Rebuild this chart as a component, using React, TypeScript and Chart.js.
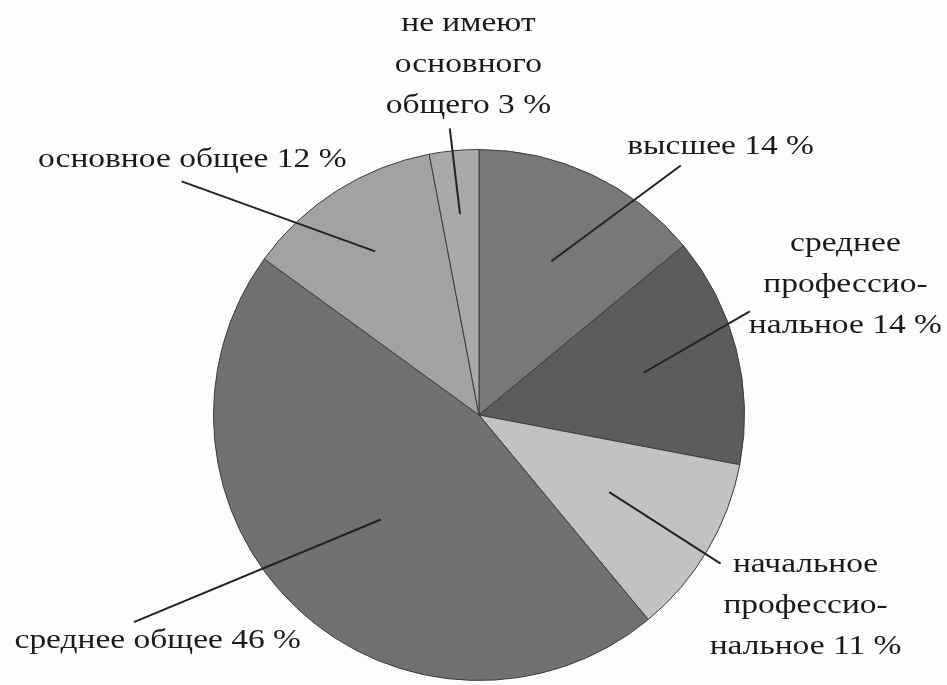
import React, { useEffect, useRef } from "react";
import { Chart, registerables } from "chart.js";

Chart.register(...registerables);

const categories = [
  "высшее",
  "среднее профессиональное",
  "начальное профессиональное",
  "среднее общее",
  "основное общее",
  "не имеют основного общего",
];
const values = [14, 14, 11, 46, 12, 3];
const labelLines = [
  ["высшее 14 %"],
  ["среднее", "профессио-", "нальное 14 %"],
  ["начальное", "профессио-", "нальное 11 %"],
  ["среднее общее 46 %"],
  ["основное общее 12 %"],
  ["не имеют", "основного", "общего 3 %"],
];
const sliceColors = ["#787878", "#5c5c5c", "#c2c2c2", "#717171", "#a2a2a2", "#a9a9a9"];

// layout: inner leader fraction of radius, outer leader end and label centre (relative to centre, in radius units)
const layout = [
  { inner: 0.64, end: [0.76, -0.94], text: [0.91, -1.01] },
  { inner: 0.64, end: [1.02, -0.39], text: [1.38, -0.49] },
  { inner: 0.57, end: [0.91, 0.56], text: [1.23, 0.72] },
  { inner: 0.54, end: [-1.3, 0.78], text: [-1.21, 0.85] },
  { inner: 0.73, end: [-1.12, -0.88], text: [-1.08, -0.96] },
  { inner: 0.76, end: [-0.11, -1.08], text: [-0.04, -1.32] },
];

const labelPlugin = {
  id: "leaderLabels",
  afterDatasetsDraw(chart: any) {
    const ctx = chart.ctx;
    const meta = chart.getDatasetMeta(0);
    ctx.save();
    meta.data.forEach((arc: any, i: number) => {
      const { x, y, startAngle, endAngle, outerRadius } = arc.getProps(
        ["x", "y", "startAngle", "endAngle", "outerRadius"],
        true
      );
      const mid = (startAngle + endAngle) / 2;
      const L = layout[i];
      const ix = x + Math.cos(mid) * outerRadius * L.inner;
      const iy = y + Math.sin(mid) * outerRadius * L.inner;
      const ex = x + L.end[0] * outerRadius;
      const ey = y + L.end[1] * outerRadius;
      ctx.strokeStyle = "#222";
      ctx.lineWidth = 2;
      ctx.beginPath();
      ctx.moveTo(ix, iy);
      ctx.lineTo(ex, ey);
      ctx.stroke();
      const tx = x + L.text[0] * outerRadius;
      const ty = y + L.text[1] * outerRadius;
      const lines = labelLines[i];
      const lh = 41;
      ctx.save();
      ctx.translate(tx, ty);
      ctx.scale(1.24, 1);
      ctx.font = '27px "Liberation Serif", "DejaVu Serif", serif';
      ctx.fillStyle = "#1a1a1a";
      ctx.textAlign = "center";
      ctx.textBaseline = "middle";
      lines.forEach((ln, k) => {
        ctx.fillText(ln, 0, (k - (lines.length - 1) / 2) * lh);
      });
      ctx.restore();
    });
    ctx.restore();
  },
};

export default function App() {
  const ref = useRef<HTMLCanvasElement | null>(null);
  useEffect(() => {
    document.body.style.margin = "0";
    document.body.style.background = "#fcfcfc";
    const chart = new Chart(ref.current as HTMLCanvasElement, {
      type: "pie",
      data: {
        labels: categories,
        datasets: [
          {
            data: values,
            backgroundColor: sliceColors,
            borderColor: "#3c3c3c",
            borderWidth: 1,
          },
        ],
      },
      options: {
        animation: false,
        responsive: false,
        layout: { padding: { top: 149, bottom: 4, left: 213, right: 202 } },
        plugins: {
          legend: { display: false },
          tooltip: { enabled: false },
        },
      },
      plugins: [labelPlugin],
    });
    return () => chart.destroy();
  }, []);
  return (
    <div style={{ width: 947, height: 685 }}>
      <canvas ref={ref} width={947} height={685} />
    </div>
  );
}
